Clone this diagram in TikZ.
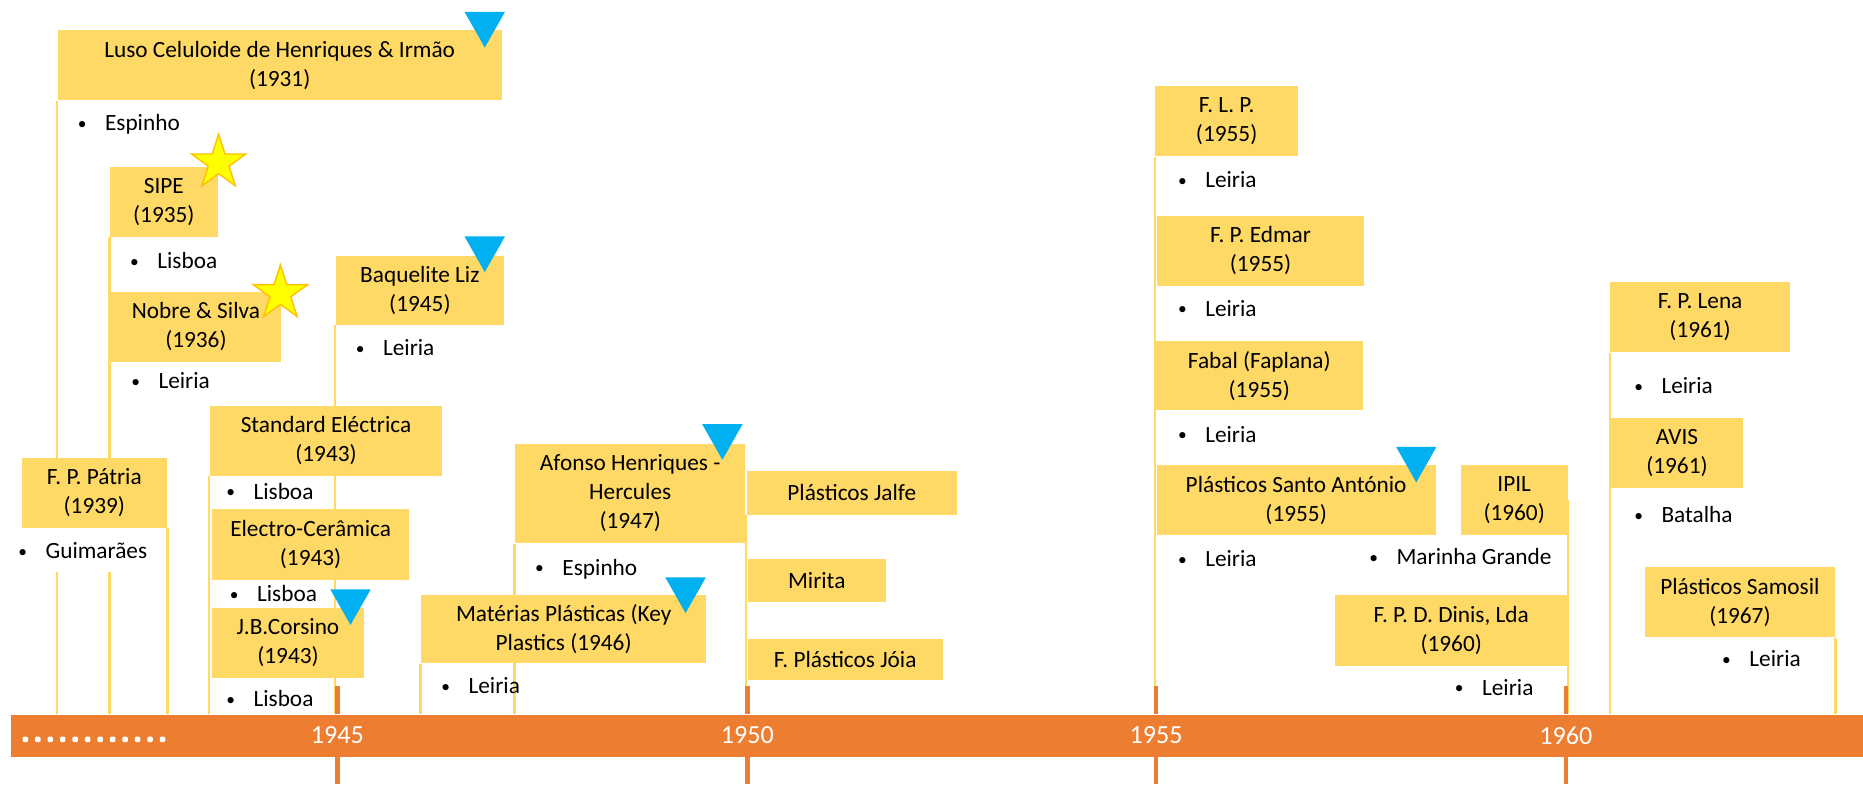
\documentclass[tikz,border=0pt]{standalone}
\usepackage{fontspec}
\setmainfont{Carlito}
\usetikzlibrary{shapes.geometric,backgrounds}

\definecolor{boxgold}{HTML}{FFD966}
\definecolor{axisorange}{HTML}{ED7D31}
\definecolor{flagblue}{HTML}{00B0F0}
\definecolor{staryellow}{HTML}{FFFF00}
\definecolor{starrim}{HTML}{FFC000}

\tikzset{
  firm/.style 2 args={fill=boxgold, anchor=north west, inner sep=0pt, align=center,
    minimum width=#1*0.5pt, minimum height=#2*0.5pt, font=\fontsize{9.8pt}{12.2pt}\selectfont},
  place/.style={anchor=base west, inner sep=0pt, font=\fontsize{9.8pt}{12.2pt}\selectfont,
    execute at begin node={\llap{\raisebox{0.5pt}{\scalebox{0.75}{\textbullet}}\hspace{7.8pt}}}},
  stem/.style={draw=boxgold, line width=1.1pt},
  yeartick/.style={draw=axisorange, line width=2pt},
  yearlabel/.style={text=white, font=\fontsize{11pt}{13pt}\selectfont, inner sep=0pt},
  award/.style={star, star points=5, star point ratio=2.618, minimum size=24pt,
    inner sep=0pt, fill=staryellow, draw=starrim, line width=0.6pt},
}

\begin{document}
\begin{tikzpicture}[x=0.5pt, y=-0.5pt]
  \useasboundingbox (0,0) rectangle (1568,660);

  % time axis
  \node[fill=axisorange, anchor=north west, inner sep=0pt, minimum width=779.5pt, minimum height=18pt] (axis) at (9,601) {};
  \foreach \i in {0,...,11}
    \fill[white, rounded corners=0.5pt] ({19+\i*10.5},620) rectangle +(4.6,4.6);
  \foreach \yr/\x in {1945/284,1950/629,1955/973,1960/1318} {
    \draw[yeartick] (\x,577) -- (\x,601);
    \draw[yeartick] (\x,637) -- (\x,660);
    \node[yearlabel] (y\yr) at (\x,619) {\yr};
  }

  % firms
  \node[firm={374}{59}] (luso) at (48,25) {Luso Celuloide de Henriques \& Irmão\\(1931)};
  \node[firm={91}{59}] (sipe) at (92,140) {SIPE\\(1935)};
  \node[firm={143}{59}] (nobre) at (93,245) {Nobre \& Silva\\(1936)};
  \node[firm={142}{58}] (baquelite) at (282,215) {Baquelite Liz\\(1945)};
  \node[firm={122}{59}] (patria) at (18,385) {F. P. Pátria\\(1939)};
  \node[firm={196}{59}] (standard) at (176,341) {Standard Eléctrica\\(1943)};
  \node[firm={166}{60}] (electro) at (178,428) {Electro-Cerâmica\\(1943)};
  \node[firm={128}{59}] (corsino) at (178,511) {J.B.Corsino\\(1943)};
  \node[firm={194}{84}] (afonso) at (433,373) {Afonso Henriques -\\Hercules\\(1947)};
  \node[firm={240}{58}] (materias) at (354,500) {Matérias Plásticas (Key\\Plastics (1946)};
  \node[firm={177}{37}] (jalfe) at (628,396) {Plásticos Jalfe};
  \node[firm={116}{36}] (mirita) at (629,470) {Mirita};
  \node[firm={164}{35}] (joia) at (629,537) {F. Plásticos Jóia};
  \node[firm={120}{59}] (flp) at (972,72) {F. L. P.\\(1955)};
  \node[firm={175}{59}] (edmar) at (973,181) {F. P. Edmar\\(1955)};
  \node[firm={175}{58}] (fabal) at (972,287) {Fabal (Faplana)\\(1955)};
  \node[firm={235}{59}] (santo) at (973,391) {Plásticos Santo António\\(1955)};
  \node[firm={90}{59}] (ipil) at (1229,391) {IPIL\\(1960)};
  \node[firm={196}{60}] (dinis) at (1123,500) {F. P. D. Dinis, Lda\\(1960)};
  \node[firm={151}{59}] (lena) at (1355,237) {F. P. Lena\\(1961)};
  \node[firm={112}{59}] (avis) at (1355,351) {AVIS\\(1961)};
  \node[firm={160}{59}] (samosil) at (1384,477) {Plásticos Samosil\\(1967)};

  % stems down to the axis
  \begin{pgfonlayer}{background}
    \foreach \b in {luso,sipe,standard,baquelite,materias,afonso,jalfe,flp,lena}
      \draw[stem] (\b.south west) -- (\b.south west |- axis.north);
    \draw[stem] (patria.south east) -- (patria.south east |- axis.north);
    \draw[stem] (ipil.east) -- (ipil.east |- axis.north);
    \draw[stem] (samosil.south east) -- (samosil.south east |- axis.north);
  \end{pgfonlayer}

  % places
  \fill[white] (10,444) rectangle (138,481);
  \node[place] (lusoloc) at (88,110) {Espinho};
  \node[place] (sipeloc) at (132,226) {Lisboa};
  \node[place] (nobreloc) at (133,327) {Leiria};
  \node[place] (baqueliteloc) at (322,299) {Leiria};
  \node[place] (patrialoc) at (38,470) {Guimarães};
  \node[place] (standardloc) at (213,420) {Lisboa};
  \node[place] (electroloc) at (216,506) {Lisboa};
  \node[place] (corsinoloc) at (213,595) {Lisboa};
  \node[place] (afonsoloc) at (473,484) {Espinho};
  \node[place] (materiasloc) at (394,584) {Leiria};
  \node[place] (flploc) at (1014,158) {Leiria};
  \node[place] (edmarloc) at (1014,266) {Leiria};
  \node[place] (faballoc) at (1014,372) {Leiria};
  \node[place] (santoloc) at (1014,477) {Leiria};
  \node[place] (ipilloc) at (1175,475) {Marinha Grande};
  \node[place] (dinisloc) at (1247,585) {Leiria};
  \node[place] (lenaloc) at (1398,331) {Leiria};
  \node[place] (avisloc) at (1398,440) {Batalha};
  \node[place] (samosilloc) at (1472,561) {Leiria};

  % markers
  \foreach \x/\y in {391/10,391/199,278/496,591/357,560/486,1175/376}
    \fill[flagblue] (\x,\y) -- ++(34,0) -- ++(-17,30) -- cycle;
  \node[award] (sipestar) at (184,137) {};
  \node[award] (nobrestar) at (236,247) {};
\end{tikzpicture}
\end{document}
